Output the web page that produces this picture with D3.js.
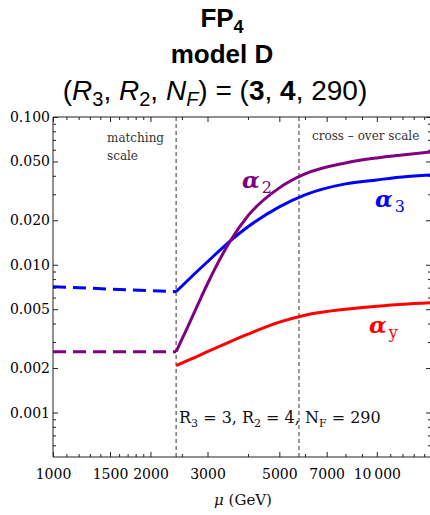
<!DOCTYPE html>
<html>
<head>
<meta charset="utf-8">
<script src="https://cdn.jsdelivr.net/npm/d3@7"></script>
<style>
  body { margin: 0; background: #fff; }
  .tick text { font-family: "DejaVu Serif", serif; font-size: 14px; fill: #000; }
</style>
</head>
<body>
<script>
// running couplings
const muLow = [1000, 2400];
const alpha3Low = [0.0071, 0.00657];
const alpha2Low = [0.00258, 0.00258];

const mu = [2400, 2600, 2800, 3000, 3500, 4000, 5000, 6000, 8000, 10000, 12000, 14700];
const alpha3 = [0.00657, 0.00780, 0.00911, 0.01048, 0.01430, 0.01806, 0.02465, 0.02972, 0.03527, 0.03753, 0.03932, 0.04056];
const alpha2 = [0.00258, 0.00375, 0.00537, 0.00744, 0.01408, 0.02144, 0.03314, 0.04119, 0.04889, 0.05284, 0.05535, 0.05801];
const alphaY = [0.00208, 0.002246, 0.002409, 0.002584, 0.002996, 0.003391, 0.004088, 0.004558, 0.005004, 0.005243, 0.005407, 0.005536];

const matchingScale = 2400;
const crossScale = 5750;

const xMajor = [1000, 1500, 2000, 3000, 5000, 7000, 10000];
const xMinor = [1100, 1200, 1300, 1400, 1600, 1700, 1800, 1900, 2500, 4000, 6000, 8000, 9000, 11000, 12000, 13000, 14000];
const yMajor = [0.001, 0.002, 0.005, 0.01, 0.02, 0.05, 0.1];
const yMinor = [0.0006, 0.0007, 0.0008, 0.0009, 0.003, 0.004, 0.006, 0.007, 0.008, 0.009, 0.03, 0.04, 0.06, 0.07, 0.08, 0.09];

{
const W = 430, H = 515;
const pl = 53, pr = 431, pt = 117, pb = 457;

const svg = d3.select("body").append("svg")
    .attr("width", W)
    .attr("height", H);

const x = d3.scaleLog().domain([1000, 14700]).range([pl, pr]);
const y = d3.scaleLog().domain([0.0005, 0.1]).range([pb, pt]);

// title
const title = svg.append("g")
    .attr("font-family", "'Liberation Sans', Arial, sans-serif")
    .attr("text-anchor", "middle")
    .attr("fill", "#000");

const t1 = title.append("text").attr("x", 222).attr("y", 27)
    .attr("font-size", 26).attr("font-weight", "bold");
t1.append("tspan").text("FP");
t1.append("tspan").attr("font-size", 18).attr("dy", 6).text("4");

title.append("text").attr("x", 222).attr("y", 63)
    .attr("font-size", 26).attr("font-weight", "bold").text("model D");

const t3 = title.append("text").attr("x", 215).attr("y", 100).attr("font-size", 28);
const parts = [
    ["(", null], ["R", "i"], ["3", "s"], [", ", null], ["R", "i"], ["2", "s"], [", ", null],
    ["N", "i"], ["F", "si"], [") = (", null], ["3", "b"], [", ", null], ["4", "b"], [", 290)", null]
];
let sub = false;
parts.forEach(function(p) {
    const ts = t3.append("tspan").text(p[0]);
    if (p[1] === "i") ts.attr("font-style", "italic");
    if (p[1] === "b") ts.attr("font-weight", "bold");
    if (p[1] === "s" || p[1] === "si") {
        ts.attr("font-size", 20).attr("dy", sub ? 0 : 6);
        if (p[1] === "si") ts.attr("font-style", "italic");
        sub = true;
    } else if (sub) {
        ts.attr("dy", -6);
        sub = false;
    }
});

// guide lines
svg.selectAll("line.scale")
    .data([matchingScale, crossScale])
    .enter().append("line")
    .attr("class", "scale")
    .attr("x1", d => x(d)).attr("x2", d => x(d))
    .attr("y1", pt).attr("y2", pb)
    .attr("stroke", "#333")
    .attr("stroke-width", 1)
    .attr("stroke-dasharray", "4,3");

// axes (ticks point inward, like a frame)
function addAxis(gen, tr, vals, size, fmt) {
    const g = svg.append("g").attr("transform", tr)
        .call(gen.tickValues(vals).tickSize(size).tickPadding(fmt ? 12 : 3).tickFormat(fmt || (() => "")));
    g.select(".domain").remove();
    g.selectAll(".tick line").attr("stroke", "#222");
    return g;
}
const fx = d => d === 10000 ? "10\u2009000" : String(d);
addAxis(d3.axisBottom(x), `translate(0,${pb})`, xMajor, -5, fx);
addAxis(d3.axisBottom(x), `translate(0,${pb})`, xMinor, -3);
addAxis(d3.axisTop(x), `translate(0,${pt})`, xMajor, -5);
addAxis(d3.axisTop(x), `translate(0,${pt})`, xMinor, -3);
const yl = addAxis(d3.axisLeft(y), `translate(${pl},0)`, yMajor, -5, d3.format(".3f"));
yl.selectAll(".tick text").attr("x", -3);
addAxis(d3.axisLeft(y), `translate(${pl},0)`, yMinor, -3);
addAxis(d3.axisRight(y), `translate(${pr},0)`, yMajor, -5);
addAxis(d3.axisRight(y), `translate(${pr},0)`, yMinor, -3);

svg.append("path")
    .attr("d", `M${pr},${pt}H${pl}V${pb}H${pr}`)
    .attr("fill", "none").attr("stroke", "#222").attr("stroke-width", 1);

// curves
const line = d3.line().x(d => x(d[0])).y(d => y(d[1])).curve(d3.curveMonotoneX);
const series = [
    { vals: alpha3, low: alpha3Low, color: "#0000ff" },
    { vals: alpha2, low: alpha2Low, color: "#800080" },
    { vals: alphaY, low: null, color: "#ff0000" }
];
series.forEach(function(s) {
    if (s.low) {
        svg.append("path")
            .attr("d", line(d3.zip(muLow, s.low)))
            .attr("fill", "none").attr("stroke", s.color)
            .attr("stroke-width", 3).attr("stroke-dasharray", "13,7");
    }
    svg.append("path")
        .attr("d", line(d3.zip(mu, s.vals)))
        .attr("fill", "none").attr("stroke", s.color)
        .attr("stroke-width", 3).attr("stroke-linejoin", "round");
});

// labels
const mathLabels = [
    { t: "\u03b1", s: "2", x: 242, y: 188, c: "#800080" },
    { t: "\u03b1", s: "3", x: 375, y: 207, c: "#0000ff" },
    { t: "\u03b1", s: "y", x: 369, y: 333, c: "#ff0000" }
];
mathLabels.forEach(function(m) {
    const t = svg.append("text").attr("x", m.x).attr("y", m.y)
        .attr("font-family", "'DejaVu Serif', serif").attr("fill", m.c);
    t.append("tspan").attr("font-size", 23).attr("font-style", "italic").attr("font-weight", "bold").text(m.t);
    t.append("tspan").attr("font-size", 16).attr("dy", 5).attr("dx", 2).text(m.s);
});

const note = svg.append("g").attr("font-family", "'DejaVu Serif', serif")
    .attr("font-size", 12).attr("fill", "#333");
note.append("text").attr("x", 107).attr("y", 142).text("matching");
note.append("text").attr("x", 107).attr("y", 160).text("scale");
note.append("text").attr("x", 312).attr("y", 140).text("cross \u2013 over scale");

const rl = svg.append("text").attr("x", 179).attr("y", 423)
    .attr("font-family", "'DejaVu Serif', serif").attr("font-size", 16).attr("fill", "#111");
[["R", 0], ["3", 1], [" = 3, R", -1], ["2", 1], [" = 4, N", -1], ["F", 1], [" = 290", -1]].forEach(function(p) {
    const ts = rl.append("tspan").text(p[0]);
    if (p[1] === 1) ts.attr("font-size", 11).attr("dy", 4);
    if (p[1] === -1) ts.attr("dy", -4);
});

svg.append("text").attr("x", 243).attr("y", 505)
    .attr("text-anchor", "middle")
    .attr("font-family", "'DejaVu Serif', serif").attr("font-size", 15).attr("fill", "#111")
    .html("<tspan font-style='italic'>\u03bc</tspan> (GeV)");
}
</script>
</body>
</html>
